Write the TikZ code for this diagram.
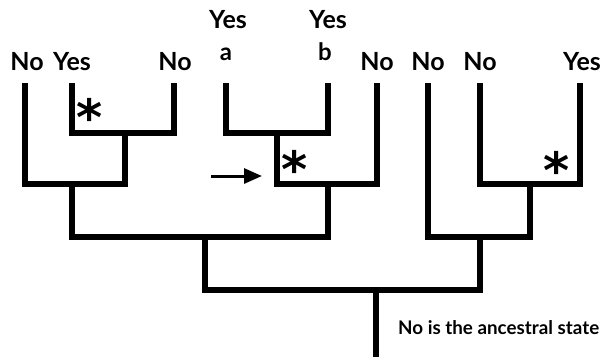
\documentclass[tikz,border=0pt]{standalone}
\usepackage{fontspec}
\setmainfont{Lato}
\newfontfamily\starfont{DejaVu Sans}
\usetikzlibrary{arrows.meta}
\begin{document}
\begin{tikzpicture}[x=1pt,y=-1pt,
  branch/.style={line width=6pt, line join=miter},
  tiplabel/.style={font=\bfseries\fontsize{25}{25}\selectfont, inner sep=0pt, anchor=base},
  letter/.style={font=\bfseries\fontsize{24}{24}\selectfont, inner sep=0pt, anchor=base},
  star/.style={font=\starfont\bfseries\fontsize{50}{50}\selectfont, inner sep=0pt, anchor=center},
  note/.style={font=\bfseries\fontsize{18.8}{18.8}\selectfont, inner sep=0pt, anchor=base west},
  pointer/.style={line width=3pt, -{Triangle[length=18pt,width=15pt]}}
  ]
\useasboundingbox (0,0) rectangle (608,357);

% tip labels
\node[tiplabel] (l1) at (27,70) {No};
\node[tiplabel] (l2) at (72,70) {Yes};
\node[tiplabel] (l3) at (175,70) {No};
\node[tiplabel] (l4) at (228,28) {Yes};
\node[letter]   (l4a) at (226,60) {a};
\node[tiplabel] (l5) at (328,28) {Yes};
\node[letter]   (l5b) at (325,60) {b};
\node[tiplabel] (l6) at (377,70) {No};
\node[tiplabel] (l7) at (428,70) {No};
\node[tiplabel] (l8) at (480,70) {No};
\node[tiplabel] (l9) at (582,70) {Yes};

% tip ends
\coordinate (t1) at (25,83);
\coordinate (t2) at (72,83);
\coordinate (t3) at (174,83);
\coordinate (t4) at (226,83);
\coordinate (t5) at (328,83);
\coordinate (t6) at (377,83);
\coordinate (t7) at (428,83);
\coordinate (t8) at (480,83);
\coordinate (t9) at (580,83);

% internal nodes
\coordinate (n1) at (125,133);
\coordinate (n2) at (72,184);
\coordinate (n3) at (277,133);
\coordinate (n4) at (328,184);
\coordinate (n5) at (205,237);
\coordinate (n6) at (530,184);
\coordinate (n7) at (480,237);
\coordinate (n8) at (376,290);
\coordinate (base) at (376,357);

% branches
\draw[branch] (t2) |- (n1) -| (t3);
\draw[branch] (t1) |- (n2) -| (n1);
\draw[branch] (t4) |- (n3) -| (t5);
\draw[branch] (n3) |- (n4) -| (t6);
\draw[branch] (n2) |- (n5) -| (n4);
\draw[branch] (t8) |- (n6) -| (t9);
\draw[branch] (t7) |- (n7) -| (n6);
\draw[branch] (n5) |- (n8) -| (n7);
\draw[branch] (n8) -- (base);

% character changes
\node[star] (s1) at (90,117) {*};
\node[star] (s2) at (295,169) {*};
\node[star] (s3) at (557,170) {*};

% pointer
\coordinate (p0) at (211,176);
\coordinate (p1) at (262,176);
\draw[pointer] (p0) -- (p1);

\node[note] (anc) at (398,334) {No is the ancestral state};
\end{tikzpicture}
\end{document}
